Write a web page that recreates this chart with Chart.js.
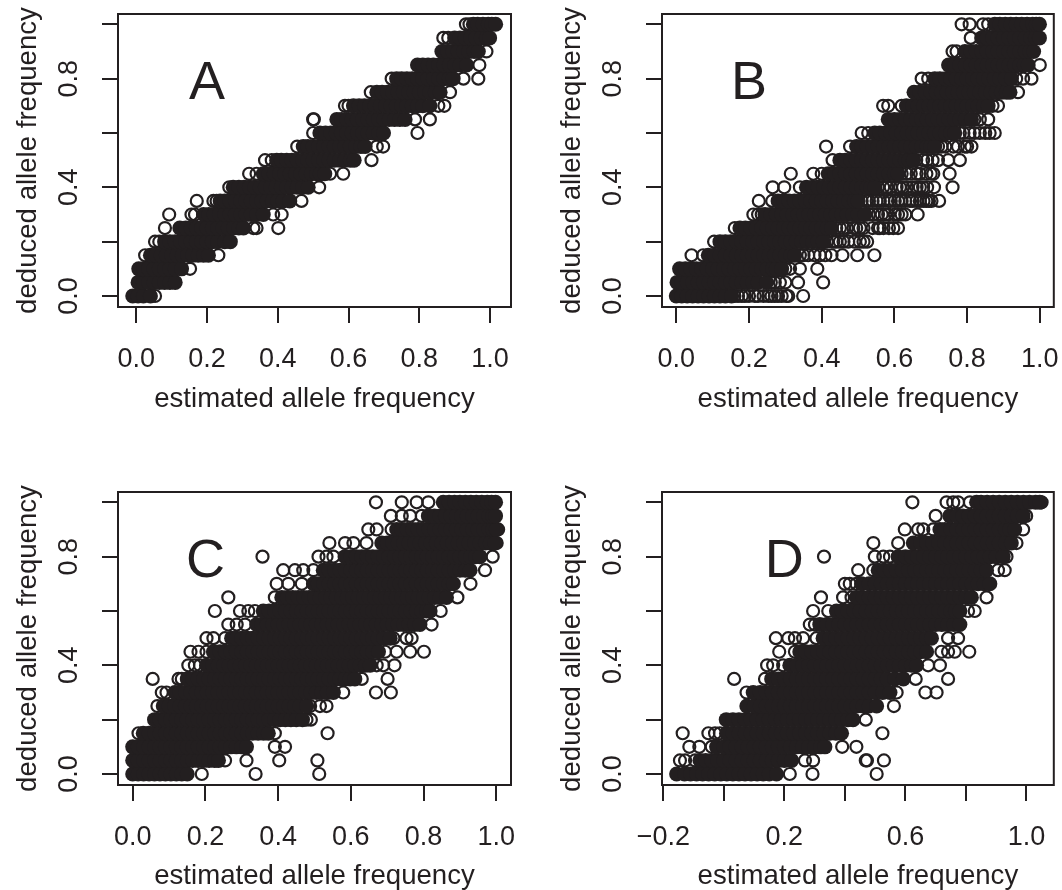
<!DOCTYPE html>
<html>
<head>
<meta charset="utf-8">
<title>Allele frequency scatter</title>
<script src="https://cdn.jsdelivr.net/npm/chart.js@4"></script>
<style>
  html, body { margin: 0; background: #fff; }
  canvas { position: absolute; }
</style>
</head>
<body>
<canvas id="chartA" width="531" height="445" style="left:0;top:0"></canvas>
<canvas id="chartB" width="531" height="445" style="left:531px;top:0"></canvas>
<canvas id="chartC" width="531" height="445" style="left:0;top:445px"></canvas>
<canvas id="chartD" width="531" height="445" style="left:531px;top:445px"></canvas>
<script>
// deduced frequency comes in steps of 0.05, every row below is one of these levels
const yLevels = [0,.05,.1,.15,.2,.25,.3,.35,.4,.45,.5,.55,.6,.65,.7,.75,.8,.85,.9,.95,1];
const xTicks = [0,.2,.4,.6,.8,1];
const xLabels = ['0.0','0.2','0.4','0.6','0.8','1.0'];
const xTicksD = [-.2,0,.2,.4,.6,.8,1];
const xLabelsD = ['\u22120.2','','0.2','','0.6','','1.0'];
const yTicks = [0,.2,.4,.6,.8,1];
const yLabels = ['0.0','','0.4','','0.8',''];

// solid part of each band (overplotted circles), x per y level
const coreA = [
[-.01,.005,.02,.04],
[.005,.02,.035,.05,.065,.08,.095,.11],
[.007,.02,.035,.05,.065,.08,.095,.11,.128],
[.04,.055,.07,.085,.1,.115,.13,.145,.16,.175,.19,.204],
[.08,.095,.11,.125,.14,.155,.17,.185,.2,.215,.23,.25,.266],
[.123,.14,.155,.17,.185,.2,.215,.23,.245,.26,.275,.29,.303],
[.19,.205,.22,.235,.25,.265,.28,.295,.31,.325,.34,.359],
[.237,.25,.265,.28,.295,.31,.325,.34,.355,.37,.385,.4,.415,.434],
[.274,.29,.305,.32,.335,.35,.365,.38,.395,.41,.425,.44,.455,.47,.486],
[.359,.375,.39,.405,.42,.435,.45,.465,.48,.495,.51,.52,.533],
[.397,.41,.425,.44,.455,.47,.485,.5,.515,.53,.545,.56,.575,.59,.605,.616],
[.472,.485,.5,.515,.53,.545,.56,.575,.59,.605,.62,.635,.647],
[.519,.535,.55,.565,.58,.595,.61,.625,.64,.655,.67,.685,.699],
[.567,.58,.595,.61,.625,.64,.655,.67,.685,.7,.715,.73,.745,.76],
[.614,.63,.645,.66,.675,.69,.705,.72,.735,.75,.765,.78,.795,.81,.83],
[.68,.695,.71,.725,.74,.755,.77,.785,.8,.815,.83,.845,.859],
[.736,.75,.765,.78,.795,.81,.825,.84,.855,.87,.885,.896],
[.795,.81,.825,.84,.855,.87,.885,.9,.915,.934],
[.864,.88,.895,.91,.925,.94,.955,.967],
[.9,.915,.93,.945,.96,.975,.99,.999],
[.953,.965,.98,.995,1.005,1.016]
];
const openA = [
[.053],[],[.152],[.025,.232],[.053,.065],[.081,.331,.34,.4015],[.093,.156,.166,.387,.411],
[.171,.218,.227,.467],[.263,.517],[.319,.34,.548,.585],[.364,.383,.665],[.455,.68,.698],
[.5,.795],[.5,.502,.788,.83],[.59,.6,.854,.871],[.663,.887],[.722,.925,.967],[.97],[.99],
[.868,.882],[.932,.942]
];

const coreB = [
[0,.015,.03,.045,.06,.075,.09,.105,.12,.135,.152],
[.002,.015,.03,.045,.06,.075,.09,.105,.12,.135,.15,.165,.18,.195,.21,.225,.248],
[.009,.025,.04,.055,.07,.085,.1,.115,.13,.145,.16,.175,.19,.205,.22,.235,.25,.265,.275,.29],
[.088,.105,.12,.135,.15,.165,.18,.195,.21,.225,.24,.255,.27,.285,.3,.315,.326],
[.12,.135,.15,.165,.18,.195,.21,.225,.24,.255,.27,.285,.3,.315,.33,.345,.36,.375,.39,.404],
[.175,.19,.205,.22,.235,.25,.265,.28,.295,.31,.325,.34,.355,.37,.385,.4,.415,.427],
[.244,.26,.275,.29,.305,.32,.335,.35,.365,.38,.395,.41,.425,.44,.455,.47,.485,.5,.519],
[.28,.295,.31,.325,.34,.355,.37,.385,.4,.415,.43,.445,.46,.475,.49,.5],
[.358,.375,.39,.405,.42,.435,.45,.465,.48,.495,.51,.525,.535,.546],
[.418,.435,.45,.465,.48,.495,.51,.525,.54,.555,.57,.585,.6,.61],
[.45,.465,.48,.495,.51,.525,.54,.555,.57,.585,.6,.615,.63,.64,.652],
[.496,.51,.525,.54,.555,.57,.585,.6,.615,.63,.645,.66,.675,.69,.7,.711],
[.546,.56,.575,.59,.605,.62,.635,.65,.665,.68,.695,.71,.725,.74,.755,.766],
[.583,.6,.615,.63,.645,.66,.675,.69,.705,.72,.735,.75,.765,.78,.795,.812],
[.633,.65,.665,.68,.695,.71,.725,.74,.755,.77,.785,.8,.815,.83,.845,.858],
[.654,.67,.685,.7,.715,.73,.745,.76,.775,.79,.805,.82,.835,.85,.865,.88,.895,.908,.918],
[.711,.725,.74,.755,.77,.785,.8,.815,.83,.845,.86,.875,.89,.905,.922],
[.749,.765,.78,.795,.81,.825,.84,.855,.87,.885,.9,.915,.93,.945,.957,.968],
[.794,.81,.825,.84,.855,.87,.885,.9,.915,.93,.945,.96,.972,.983],
[.84,.855,.87,.885,.9,.915,.93,.945,.96,.975,.988,.999],
[.876,.89,.905,.92,.935,.95,.965,.98,.99,.999]
];
const openB = [
[.16,.17,.18,.189,.2,.216,.225,.24,.253,.262,.271,.28,.29,.303,.308,.349],[.26,.271,.285,.3,.335,.404],[.3,.313,.34,.388],
[.042,.074,.34,.35,.363,.38,.395,.41,.427,.457,.498,.545],[.104,.415,.432,.44,.45,.46,.473,.49,.505,.515,.525],
[.161,.44,.45,.46,.47,.487,.495,.505,.515,.54,.555,.56,.57,.585,.597,.61],[.212,.225,.235,.53,.542,.555,.565,.575,.583,.601,.61,.62,.63,.664],
[.227,.264,.51,.523,.53,.54,.551,.56,.57,.583,.59,.601,.61,.62,.63,.643,.65,.661,.67,.68,.688,.695,.702,.723],[.265,.297,.34,.555,.569,.58,.59,.606,.615,.624,.635,.65,.661,.67,.679,.69,.709,.76],
[.315,.377,.4,.62,.633,.645,.661,.67,.688,.7,.707,.752],[.43,.66,.679,.69,.705,.72,.748,.78],[.412,.478,.72,.73,.74,.762,.775,.794,.8,.812],
[.51,.528,.78,.79,.807,.82,.835,.85,.862,.876],[.82,.835,.858],[.569,.583,.62,.87,.885],[.94],[.675,.693,.935,.954,.977],[1],
[.76,.771],[.81],[.785,.807,.844,.858]
];

const coreC = [
[0,.015,.03,.045,.06,.075,.09,.105,.12,.135,.15],
[0,.015,.03,.045,.06,.075,.09,.105,.12,.135,.15,.165,.18,.195,.21,.225,.236],
[0,.015,.03,.045,.06,.075,.09,.105,.12,.135,.15,.165,.18,.195,.21,.225,.24,.255,.27,.285,.3,.313],
[.029,.045,.06,.075,.09,.105,.12,.135,.15,.165,.18,.195,.21,.225,.24,.255,.27,.285,.3,.315,.33,.345,.36,.373],
[.06,.075,.09,.105,.12,.135,.15,.165,.18,.195,.21,.225,.24,.255,.27,.285,.3,.315,.33,.345,.36,.375,.39,.405,.42,.435,.45,.467],
[.084,.1,.115,.13,.145,.16,.175,.19,.205,.22,.235,.25,.265,.28,.295,.31,.325,.34,.355,.37,.385,.4,.415,.43,.445,.46,.478],
[.116,.13,.145,.16,.175,.19,.205,.22,.235,.25,.265,.28,.295,.31,.325,.34,.355,.37,.385,.4,.415,.43,.445,.46,.475,.49,.505,.52,.535,.552],
[.15,.165,.18,.195,.21,.225,.24,.255,.27,.285,.3,.315,.33,.345,.36,.375,.39,.405,.42,.435,.45,.465,.48,.495,.51,.525,.54,.555,.57,.585,.598,.611],
[.203,.22,.235,.25,.265,.28,.295,.31,.325,.34,.355,.37,.385,.4,.415,.43,.445,.46,.475,.49,.505,.52,.535,.55,.565,.58,.595,.61,.625,.64,.653],
[.222,.24,.255,.27,.285,.3,.315,.33,.345,.36,.375,.39,.405,.42,.435,.45,.465,.48,.495,.51,.525,.54,.555,.57,.585,.6,.615,.63,.645,.66,.676],
[.272,.285,.3,.315,.33,.345,.36,.375,.39,.405,.42,.435,.45,.465,.48,.495,.51,.525,.54,.555,.57,.585,.6,.615,.63,.645,.66,.675,.69,.708],
[.341,.355,.37,.385,.4,.415,.43,.445,.46,.475,.49,.505,.52,.535,.55,.565,.58,.595,.61,.625,.64,.655,.67,.685,.7,.715,.73,.745,.76,.775,.79],
[.359,.375,.39,.405,.42,.435,.45,.465,.48,.495,.51,.525,.54,.555,.57,.585,.6,.615,.63,.645,.66,.675,.69,.705,.72,.735,.75,.765,.78,.795,.808,.818],
[.41,.425,.44,.455,.47,.485,.5,.515,.53,.545,.56,.575,.59,.605,.62,.635,.65,.665,.68,.695,.71,.725,.74,.755,.77,.785,.8,.815,.83,.845,.863],
[.497,.51,.525,.54,.555,.57,.585,.6,.615,.63,.645,.66,.675,.69,.705,.72,.735,.75,.765,.78,.795,.81,.825,.84,.855,.87,.882],
[.524,.54,.555,.57,.585,.6,.615,.63,.645,.66,.675,.69,.705,.72,.735,.75,.765,.78,.795,.81,.825,.84,.855,.87,.885,.9,.915,.928],
[.584,.6,.615,.63,.645,.66,.675,.69,.705,.72,.735,.75,.765,.78,.795,.81,.825,.84,.855,.87,.885,.9,.915,.93,.943,.955],
[.685,.7,.715,.73,.745,.76,.775,.79,.805,.82,.835,.85,.865,.88,.895,.91,.925,.94,.955,.97,.983,.996],
[.726,.74,.755,.77,.785,.8,.815,.83,.845,.86,.875,.89,.905,.92,.935,.95,.965,.98,.99,1],
[.813,.83,.845,.86,.875,.89,.905,.92,.935,.95,.965,.98,.99,.998],
[.854,.87,.885,.9,.915,.93,.945,.96,.975,.987,.998]
];
const openC = [
[.19,.338,.513],[.254,.313,.403,.508],[.263,.391,.419],[.016,.391,.536],[.478,.49],[.068,.488,.515,.533],
[.08,.093,.579,.669,.71],[.055,.126,.135,.63,.701],[.153,.171,.185,.671,.689,.72],[.159,.181,.203,.694,.726,.763,.801],
[.203,.222,.254,.717,.753,.767],[.263,.286,.309,.822],[.226,.295,.318,.336,.847],[.263,.391,.893],
[.396,.428,.465,.929],[.414,.446,.469,.497,.969],[.357,.511,.533,.552,.99],[.541,.584,.607,.643,1.001],
[.648,.671,.712,1.005],[.71,.74,.763,.795],[.669,.74,.781,.813]
];

const coreD = [
[-.156,-.13,-.11,-.09,-.07,-.05,-.03,-.01,.01,.03,.05,.07,.09,.11,.13,.15,.174],
[-.079,-.06,-.04,-.02,0,.02,.04,.06,.08,.1,.12,.14,.16,.18,.2,.224],
[-.024,0,.02,.04,.06,.08,.1,.12,.14,.16,.18,.2,.22,.24,.26,.28,.3,.32,.334],
[.009,.03,.05,.07,.09,.11,.13,.15,.17,.19,.21,.23,.25,.27,.29,.31,.33,.35,.37,.389],
[.008,.03,.05,.07,.09,.11,.13,.15,.17,.19,.21,.23,.25,.27,.29,.31,.33,.35,.37,.39,.41,.427],
[.076,.1,.12,.14,.16,.18,.2,.22,.24,.26,.28,.3,.32,.34,.36,.38,.4,.42,.44,.46,.48,.505],
[.097,.12,.14,.16,.18,.2,.22,.24,.26,.28,.3,.32,.34,.36,.38,.4,.42,.44,.46,.48,.5,.525,.549],
[.158,.18,.2,.22,.24,.26,.28,.3,.32,.34,.36,.38,.4,.42,.44,.46,.48,.5,.52,.54,.565,.593],
[.218,.24,.26,.28,.3,.32,.34,.36,.38,.4,.42,.44,.46,.48,.5,.52,.54,.56,.58,.6,.62,.637],
[.251,.27,.29,.31,.33,.35,.37,.39,.41,.43,.45,.47,.49,.51,.53,.55,.57,.59,.61,.63,.65,.67],
[.328,.35,.37,.39,.41,.43,.45,.47,.49,.51,.53,.55,.57,.59,.61,.63,.65,.67,.686],
[.317,.34,.36,.38,.4,.42,.44,.46,.48,.5,.52,.54,.56,.58,.6,.62,.64,.66,.68,.7,.72,.74,.76,.78],
[.372,.39,.41,.43,.45,.47,.49,.51,.53,.55,.57,.59,.61,.63,.65,.67,.69,.71,.73,.75,.765,.78],
[.438,.46,.48,.5,.52,.54,.56,.58,.6,.62,.64,.66,.68,.7,.72,.74,.76,.78,.8,.818],
[.455,.48,.5,.52,.54,.56,.58,.6,.62,.64,.66,.68,.7,.72,.74,.76,.78,.8,.82,.84,.86,.879],
[.51,.53,.55,.57,.59,.61,.63,.65,.67,.69,.71,.73,.75,.77,.79,.81,.83,.85,.868],
[.576,.6,.62,.64,.66,.68,.7,.72,.74,.76,.78,.8,.82,.84,.86,.88,.9,.923],
[.626,.65,.67,.69,.71,.73,.75,.77,.79,.81,.83,.85,.87,.89,.91,.93,.95],
[.714,.73,.75,.77,.79,.81,.83,.85,.87,.89,.91,.93,.945,.961],
[.747,.77,.79,.81,.83,.85,.87,.89,.91,.93,.95,.97,.989],
[.835,.85,.87,.89,.91,.93,.95,.97,.99,1.01,1.03,1.044]
];
const openD = [
[.218,.293,.505],[-.145,-.128,-.095,.268,.295,.469,.473,.529],[-.114,-.081,-.04,.391,.438],
[-.136,-.051,-.029,-.013,.524],[.469],[.562],[.075,.571,.666,.703],[.034,.136,.634,.741],
[.143,.163,.196,.675,.714],[.183,.235,.719,.741,.763,.811],[.172,.213,.235,.262,.306,.741,.774],
[.284,.301],[.295,.345,.807,.829],[.321,.394,.422,.868],[.4,.416,.438],[.444,.494,.906,.928],
[.331,.499,.527,.549,.934],[.494,.576,.967],[.598,.642,.659,.692,.989],[.7,.999],[.623,.736,.758,.774,.813,1.05]
];

const ink = '#231f20';
const fontName = '"Liberation Sans", Arial, sans-serif';

// turns rows of x values into points on the y levels
function toPoints(rows) {
  return rows.flatMap((xs, i) => xs.map(x => ({ x: x, y: yLevels[i] })));
}

// R style box round the plot and the big panel letter
const panelDecor = {
  id: 'panelDecor',
  beforeDatasetsDraw(chart, args, opts) {
    const ctx = chart.ctx;
    ctx.save();
    ctx.fillStyle = ink;
    ctx.font = '54px ' + fontName;
    ctx.textAlign = 'center';
    ctx.textBaseline = 'alphabetic';
    ctx.fillText(opts.letter, chart.scales.x.getPixelForValue(.2), chart.scales.y.getPixelForValue(.725));
    ctx.restore();
  },
  afterDraw(chart) {
    const a = chart.chartArea;
    const ctx = chart.ctx;
    ctx.save();
    ctx.strokeStyle = ink;
    ctx.lineWidth = 2;
    ctx.strokeRect(a.left, a.top, a.right - a.left, a.bottom - a.top);
    ctx.restore();
  }
};

function makePanel(cfg) {
  const yAxisWidth = cfg.left;
  const xAxisHeight = 445 - cfg.bottom;
  return new Chart(document.getElementById(cfg.id), {
    type: 'scatter',
    data: {
      datasets: [
        { label: 'overplotted', data: toPoints(cfg.core), pointRadius: 7.5, pointBorderWidth: 0,
          pointBackgroundColor: ink, pointBorderColor: ink },
        { label: 'single', data: toPoints(cfg.open), pointRadius: 6, pointBorderWidth: 2.2,
          pointBackgroundColor: 'rgba(0,0,0,0)', pointBorderColor: ink }
      ]
    },
    options: {
      responsive: false,
      animation: false,
      events: [],
      layout: { padding: { left: 0, top: cfg.top, right: 531 - cfg.right, bottom: 0 } },
      plugins: { legend: false, tooltip: false, panelDecor: { letter: cfg.letter } },
      scales: {
        x: {
          type: 'linear',
          min: cfg.xMin,
          max: cfg.xMax,
          afterBuildTicks(axis) { axis.ticks = cfg.xTicks.map(v => ({ value: v })); },
          afterFit(axis) { axis.height = xAxisHeight; axis.paddingLeft = 0; axis.paddingRight = 0; },
          grid: { drawOnChartArea: false, tickLength: 16, tickColor: ink, lineWidth: 2, color: ink },
          border: { display: false },
          ticks: {
            callback: (v, i) => cfg.xLabels[i],
            autoSkip: false, minRotation: 0, maxRotation: 0,
            color: ink, padding: cfg.xTickPad, font: { family: fontName, size: 27 }
          },
          title: {
            display: true, text: 'estimated allele frequency', color: ink,
            font: { family: fontName, size: 27.6, lineHeight: 1 },
            padding: { top: 0, bottom: cfg.xTitlePad }
          }
        },
        y: {
          type: 'linear',
          min: -.0405,
          max: 1.0379,
          afterBuildTicks(axis) { axis.ticks = yTicks.map(v => ({ value: v })); },
          afterFit(axis) { axis.width = yAxisWidth; axis.paddingTop = 0; axis.paddingBottom = 0; },
          grid: { drawOnChartArea: false, tickLength: 16, tickColor: ink, lineWidth: 2, color: ink },
          border: { display: false },
          ticks: {
            callback: (v, i) => yLabels[i],
            autoSkip: false, minRotation: 90, maxRotation: 90, crossAlign: 'center',
            color: ink, padding: cfg.yTickPad, font: { family: fontName, size: 27 }
          },
          title: {
            display: true, text: 'deduced allele frequency', color: ink,
            font: { family: fontName, size: 27.6, lineHeight: 1 },
            padding: { top: cfg.yTitlePad, bottom: 0 }
          }
        }
      }
    },
    plugins: [panelDecor]
  });
}

makePanel({ id: 'chartA', letter: 'A', core: coreA, open: openA, xTicks: xTicks, xLabels: xLabels,
  left: 118, right: 511, top: 14, bottom: 307, xMin: -.0517, xMax: 1.0594, xTickPad: 20, xTitlePad: 32, yTickPad: 14, yTitlePad: 15 });
makePanel({ id: 'chartB', letter: 'B', core: coreB, open: openB, xTicks: xTicks, xLabels: xLabels,
  left: 131, right: 523, top: 14, bottom: 307, xMin: -.0393, xMax: 1.0385, xTickPad: 20, xTitlePad: 32, yTickPad: 14, yTitlePad: 28 });
makePanel({ id: 'chartC', letter: 'C', core: coreC, open: openC, xTicks: xTicks, xLabels: xLabels,
  left: 118, right: 511, top: 47, bottom: 340, xMin: -.0404, xMax: 1.0404, xTickPad: 20, xTitlePad: 0, yTickPad: 14, yTitlePad: 15 });
makePanel({ id: 'chartD', letter: 'D', core: coreD, open: openD, xTicks: xTicksD, xLabels: xLabelsD,
  left: 131, right: 523, top: 47, bottom: 340, xMin: -.2043, xMax: 1.0903, xTickPad: 20, xTitlePad: 0, yTickPad: 14, yTitlePad: 28 });
</script>
</body>
</html>
